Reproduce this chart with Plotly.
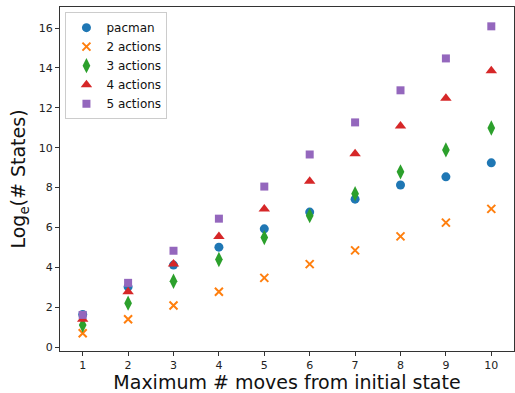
import plotly.graph_objects as go

moves = [1, 2, 3, 4, 5, 6, 7, 8, 9, 10]
pacman = [1.63, 3.02, 4.11, 5.01, 5.93, 6.77, 7.42, 8.13, 8.54, 9.24]
actions2 = [0.69, 1.39, 2.08, 2.77, 3.47, 4.16, 4.85, 5.55, 6.24, 6.93]
actions3 = [1.10, 2.20, 3.30, 4.39, 5.49, 6.59, 7.69, 8.79, 9.89, 10.99]
actions4 = [1.39, 2.77, 4.16, 5.55, 6.93, 8.32, 9.70, 11.09, 12.48, 13.86]
actions5 = [1.61, 3.22, 4.83, 6.44, 8.05, 9.66, 11.27, 12.88, 14.48, 16.09]
xticks = [1, 2, 3, 4, 5, 6, 7, 8, 9, 10]
yticks = [0, 2, 4, 6, 8, 10, 12, 14, 16]

fig = go.Figure()
series = [
    ("pacman", pacman, "circle", "#1f77b4", 9),
    ("2 actions", actions2, "x-thin", "#ff7f0e", 8),
    ("3 actions", actions3, "diamond-tall", "#2ca02c", 11),
    ("4 actions", actions4, "triangle-up", "#d62728", 10),
    ("5 actions", actions5, "square", "#9467bd", 8),
]
for name, vals, sym, col, sz in series:
    line = dict(width=2, color=col) if sym == "x-thin" else dict(width=0)
    fig.add_trace(go.Scatter(x=moves, y=vals, mode="markers", name=name,
                             marker=dict(symbol=sym, color=col, size=sz, line=line)))

axis_common = dict(showline=True, linecolor="#333", linewidth=1, mirror=True,
                   ticks="outside", ticklen=4, tickcolor="#333", showgrid=False,
                   zeroline=False, automargin=False, tickfont=dict(size=11, color="#222"))
fig.update_layout(
    width=515, height=393,
    margin=dict(l=60, r=1, t=7, b=42),
    paper_bgcolor="white", plot_bgcolor="white",
    font=dict(family="DejaVu Sans", color="#111"),
    xaxis=dict(range=[0.5, 10.5], tickvals=xticks,
               title=dict(text="Maximum # moves from initial state", font=dict(size=19), standoff=4),
               **axis_common),
    yaxis=dict(range=[-0.2, 17.06], tickvals=yticks,
               title=dict(text="Log<sub>e</sub>(# States)", font=dict(size=19), standoff=8),
               **axis_common),
    legend=dict(x=0.012, y=0.985, xanchor="left", yanchor="top",
                bordercolor="#ccc", borderwidth=1, bgcolor="rgba(255,255,255,0.8)",
                font=dict(size=12), itemwidth=30, tracegroupgap=0),
    showlegend=True,
)
fig.write_html("out.html", config={"displayModeBar": False},
               post_script="document.body.style.margin='0';")
